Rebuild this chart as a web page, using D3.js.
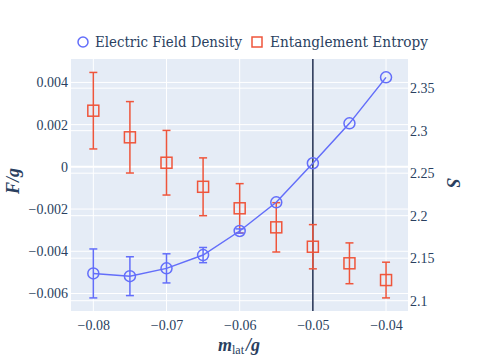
<!DOCTYPE html>
<html>
<head>
<meta charset="utf-8">
<script src="https://cdn.jsdelivr.net/npm/d3@7"></script>
<style>
  body { margin: 0; background: #fff; }
</style>
</head>
<body>
<svg id="chart" width="478" height="359"></svg>
<script>
// data
const mLat = [-0.08, -0.075, -0.07, -0.065, -0.06, -0.055, -0.05, -0.045, -0.04];
const fieldDensity = [-0.00505, -0.00518, -0.00481, -0.00418, -0.00304, -0.00168, 0.00017, 0.00206, 0.00424];
const fieldErr = [0.00116, 0.00092, 0.00069, 0.00036, 0.0001, 0, 0, 0, 0];
const entropy = [2.3235, 2.2922, 2.2623, 2.234, 2.2087, 2.1863, 2.1635, 2.144, 2.1243];
const entropyErr = [0.045, 0.042, 0.038, 0.034, 0.029, 0.029, 0.026, 0.024, 0.021];
const xTicks = [-0.08, -0.07, -0.06, -0.05, -0.04];
const leftTicks = [0.004, 0.002, 0, -0.002, -0.004, -0.006];
const rightTicks = [2.35, 2.3, 2.25, 2.2, 2.15, 2.1];
const markLine = -0.05;

const blue = "#636efa", red = "#ef553b", ink = "#2a3f5f";
const margin = {l: 71, r: 70, t: 59, b: 48};
const W = 478, H = 359;

const svg = d3.select("#chart");
const x = d3.scaleLinear().domain([-0.08305, -0.037]).range([margin.l, W - margin.r]);
const yL = d3.scaleLinear().domain([-0.00683, 0.00511]).range([H - margin.b, margin.t]);
const yR = d3.scaleLinear().domain([2.0879, 2.3843]).range([H - margin.b, margin.t]);

svg.append("rect")
  .attr("x", margin.l).attr("y", margin.t)
  .attr("width", W - margin.l - margin.r).attr("height", H - margin.t - margin.b)
  .attr("fill", "#E5ECF6");

const grid = svg.append("g").attr("stroke", "#fff");
grid.selectAll(".gx").data(xTicks).join("line")
  .attr("x1", d => x(d)).attr("x2", d => x(d))
  .attr("y1", margin.t).attr("y2", H - margin.b);
grid.selectAll(".gl").data(leftTicks).join("line")
  .attr("x1", margin.l).attr("x2", W - margin.r)
  .attr("y1", d => yL(d)).attr("y2", d => yL(d))
  .attr("stroke-width", d => d === 0 ? 2 : 1);
grid.selectAll(".gr").data(rightTicks).join("line")
  .attr("x1", margin.l).attr("x2", W - margin.r)
  .attr("y1", d => yR(d)).attr("y2", d => yR(d));

const serif = "Liberation Serif";
const fmt = d => d3.format("")(d).replace("-", "\u2212");
function styleTicks(g) {
  g.select(".domain").remove();
  g.attr("font-family", serif).attr("font-size", 14);
  g.selectAll("text").attr("font-family", serif).style("font-family", serif)
    .style("font-size", "14px").style("fill", ink);
}

svg.append("g").attr("transform", `translate(0,${H - margin.b})`)
  .call(d3.axisBottom(x).tickValues(xTicks).tickSize(0).tickPadding(9).tickFormat(fmt))
  .call(styleTicks);
svg.append("g").attr("transform", `translate(${margin.l},0)`)
  .call(d3.axisLeft(yL).tickValues(leftTicks).tickSize(0).tickPadding(3).tickFormat(fmt))
  .call(styleTicks);
svg.append("g").attr("transform", `translate(${W - margin.r},0)`)
  .call(d3.axisRight(yR).tickValues(rightTicks).tickSize(0).tickPadding(2).tickFormat(d3.format("")))
  .call(styleTicks);

// vertical marker
svg.append("line")
  .attr("x1", x(markLine)).attr("x2", x(markLine))
  .attr("y1", margin.t).attr("y2", H - margin.b)
  .attr("stroke", "#1f2d4f").attr("stroke-width", 1.5);

// error bars
function errBars(vals, errs, y, color) {
  const g = svg.append("g").attr("stroke", color).attr("stroke-width", 1.5);
  mLat.forEach((m, i) => {
    if (!errs[i]) return;
    const cx = x(m), y0 = y(vals[i] + errs[i]), y1 = y(vals[i] - errs[i]);
    g.append("line").attr("x1", cx).attr("x2", cx).attr("y1", y0).attr("y2", y1);
    g.append("line").attr("x1", cx - 4).attr("x2", cx + 4).attr("y1", y0).attr("y2", y0);
    g.append("line").attr("x1", cx - 4).attr("x2", cx + 4).attr("y1", y1).attr("y2", y1);
  });
}
errBars(entropy, entropyErr, yR, red);
errBars(fieldDensity, fieldErr, yL, blue);

// blue line + circles
svg.append("path").datum(mLat.map((m, i) => [m, fieldDensity[i]]))
  .attr("fill", "none").attr("stroke", blue).attr("stroke-width", 1.5)
  .attr("d", d3.line().x(d => x(d[0])).y(d => yL(d[1])));
svg.append("g").selectAll("circle").data(mLat).join("circle")
  .attr("cx", d => x(d)).attr("cy", (d, i) => yL(fieldDensity[i]))
  .attr("r", 5.5).attr("fill", "none").attr("stroke", blue).attr("stroke-width", 1.5);

// red squares
svg.append("g").selectAll("rect").data(mLat).join("rect")
  .attr("x", d => x(d) - 5.5).attr("y", (d, i) => yR(entropy[i]) - 5.5)
  .attr("width", 11).attr("height", 11)
  .attr("fill", "none").attr("stroke", red).attr("stroke-width", 1.5);

// axis titles
function title(sel) {
  return sel.attr("font-family", serif).style("font-family", serif)
    .style("font-size", "18px").style("fill", ink);
}
title(svg.append("text").attr("transform", `translate(19,181) rotate(-90)`).attr("text-anchor", "middle"))
  .style("font-style", "italic").style("font-weight", "bold").text("F/g");
title(svg.append("text").attr("transform", `translate(447,183) rotate(90)`).attr("text-anchor", "middle"))
  .style("font-style", "italic").style("font-weight", "bold").text("S");
const xt = title(svg.append("text").attr("x", 239).attr("y", 351).attr("text-anchor", "middle"));
xt.append("tspan").style("font-style", "italic").style("font-weight", "bold").text("m");
xt.append("tspan").style("font-size", "12px").attr("dy", 3).text("lat");
xt.append("tspan").attr("dy", -3).attr("dx", 2).style("font-style", "italic").style("font-weight", "bold").text("/g");

// legend
const leg = svg.append("g");
leg.append("circle").attr("cx", 83).attr("cy", 42).attr("r", 5)
  .attr("fill", "none").attr("stroke", blue).attr("stroke-width", 1.5);
leg.append("rect").attr("x", 252).attr("y", 37).attr("width", 10).attr("height", 10)
  .attr("fill", "none").attr("stroke", red).attr("stroke-width", 1.5);
[["Electric Field Density", 95, 147], ["Entanglement Entropy", 270, 158]].forEach(([t, lx, len]) => {
  leg.append("text").attr("x", lx).attr("y", 47)
    .attr("textLength", len).attr("lengthAdjust", "spacingAndGlyphs")
    .attr("font-family", "DejaVu Serif").style("font-family", "DejaVu Serif")
    .style("font-size", "15px").style("fill", ink)
    .text(t);
});
</script>
</body>
</html>
